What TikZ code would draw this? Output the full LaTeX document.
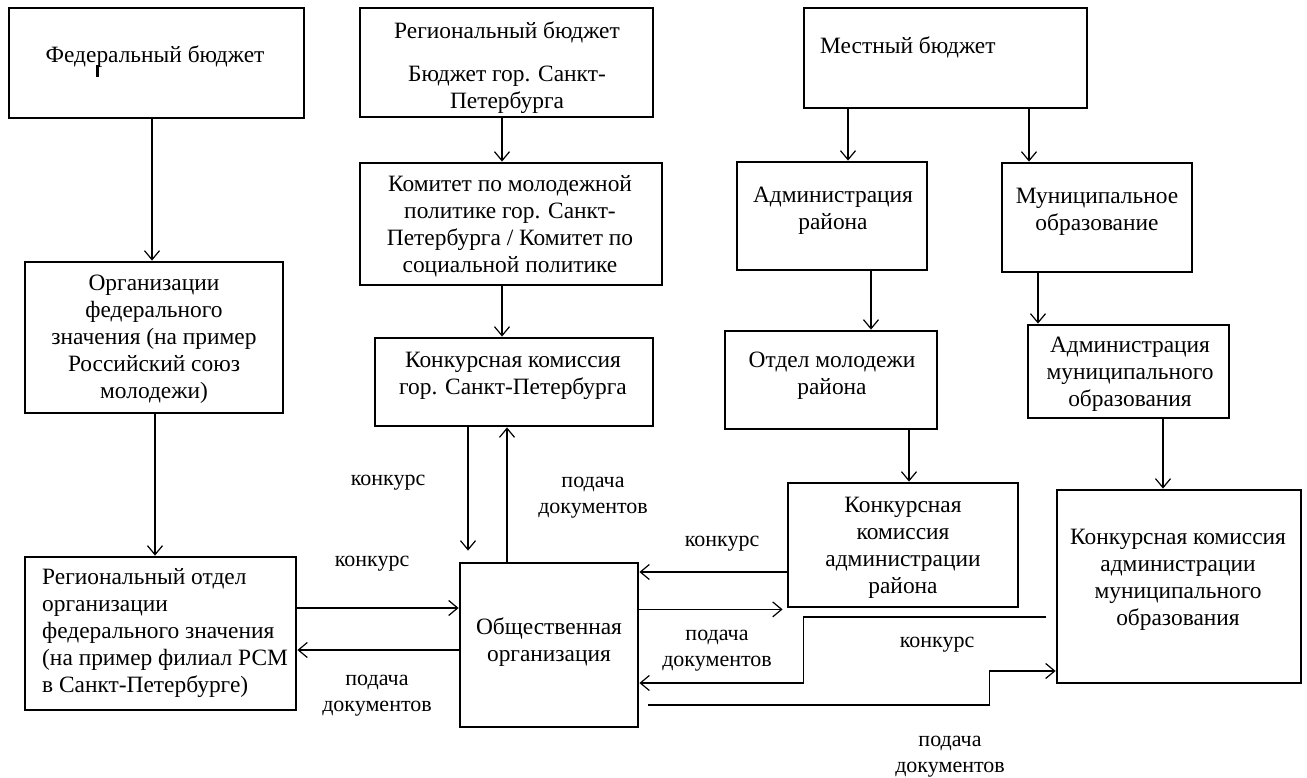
\documentclass[tikz,border=0pt]{standalone}
\usepackage{fontspec}
\setmainfont{Liberation Serif}
\usetikzlibrary{arrows.meta}
\begin{document}
\begin{tikzpicture}[x=1pt,y=-1pt,
  box/.style={draw, line width=2.8pt, rectangle, inner sep=0pt},
  txt/.style={font=\fontsize{23.4}{27}\selectfont, align=center, inner sep=0pt, yshift=-2pt},
  lbl/.style={font=\fontsize{22}{26}\selectfont, align=center, inner sep=0pt, yshift=-1pt},
  arr/.style={-{Straight Barb[length=9pt,width=15pt]}, line width=1.2pt}]
\useasboundingbox (0,0) rectangle (1307,778);
\fill[white] (0,0) rectangle (1307,778);

% boxes
\node[box, minimum width=295pt, minimum height=110pt] (fb)   at (156.5,63) {};
\node[box, minimum width=258pt, minimum height=151pt] (org)  at (154,337.5) {};
\node[box, minimum width=271pt, minimum height=153pt] (rot)  at (160.5,633.5) {};
\node[box, minimum width=293pt, minimum height=109pt] (rb)   at (506.5,62.5) {};
\node[box, minimum width=302pt, minimum height=122pt] (kom)  at (511,224) {};
\node[box, minimum width=278pt, minimum height=88pt]  (kkg)  at (514,382) {};
\node[box, minimum width=178pt, minimum height=164pt] (oo)   at (549,645) {};
\node[box, minimum width=283pt, minimum height=100pt] (mb)   at (945.5,58) {};
\node[box, minimum width=190pt, minimum height=108pt] (ar)   at (832,216) {};
\node[box, minimum width=212pt, minimum height=98pt]  (om)   at (831,380) {};
\node[box, minimum width=230pt, minimum height=124pt] (kkr)  at (903,545) {};
\node[box, minimum width=190pt, minimum height=109pt] (mo)   at (1097,217.5) {};
\node[box, minimum width=201pt, minimum height=93pt]  (amo)  at (1128.5,371.5) {};
\node[box, minimum width=244pt, minimum height=193pt] (kkmo) at (1179,586.5) {};

% texts
\node[txt] (fbt) at (155,55) {Федеральный бюджет};
\draw[line width=3pt] (97.5,65) -- (97.5,77);
\node[txt] (orgt) at (154,337.5) {Организации\\федерального\\значения (на пример\\Российский союз\\молодежи)};
\node[txt, align=left, anchor=west] (rott) at (42,631.5) {Региональный отдел\\организации\\федерального значения\\(на пример филиал РСМ\\в Санкт-Петербурге)};
\node[txt] (rbt1) at (507,30) {Региональный бюджет};
\node[txt] (rbt2) at (507,87.5) {Бюджет гор. Санкт-\\Петербурга};
\node[txt] (komt) at (510,224) {Комитет по молодежной\\политике гор. Санкт-\\Петербурга / Комитет по\\социальной политике};
\node[txt] (kkgt) at (513,373.5) {Конкурсная комиссия\\гор. Санкт-Петербурга};
\node[txt] (oot) at (549,640) {Общественная\\организация};
\node[txt, anchor=west] (mbt) at (820,45) {Местный бюджет};
\node[txt] (art) at (833,208.5) {Администрация\\района};
\node[txt] (omt) at (832,373.5) {Отдел молодежи\\района};
\node[txt] (kkrt) at (903,545.5) {Конкурсная\\комиссия\\администрации\\района};
\node[txt] (mot) at (1097,209.5) {Муниципальное\\образование};
\node[txt] (amot) at (1130,372.5) {Администрация\\муниципального\\образования};
\node[txt] (kkmot) at (1178,578) {Конкурсная комиссия\\администрации\\муниципального\\образования};

% labels
\node[lbl] (l1) at (388,482) {конкурс};
\node[lbl] (l2) at (593,497) {подача\\документов};
\node[lbl] (l3) at (372,563) {конкурс};
\node[lbl] (l4) at (377,694.5) {подача\\документов};
\node[lbl] (l5) at (722,543) {конкурс};
\node[lbl] (l6) at (717,650) {подача\\документов};
\node[lbl] (l7) at (937,644) {конкурс};
\node[lbl] (l8) at (950,755.5) {подача\\документов};

% vertical connectors
\draw[arr] ([xshift=-2pt]fb.south -| org.north) -- ([xshift=-2pt]org.north);
\draw[arr] ([xshift=1pt]org.south) -- ([xshift=1pt]org.south |- rot.north);
\draw[arr] ([xshift=-4.5pt]rb.south) -- ([xshift=-4.5pt]rb.south |- kom.north);
\draw[arr] ([xshift=-9pt]kom.south) -- ([xshift=-9pt]kom.south |- kkg.north);
\draw[arr] ([xshift=-81pt]oo.north |- kkg.south) -- ([xshift=-81pt,yshift=11pt]oo.north);
\draw[arr] ([xshift=-42pt]oo.north) -- ([xshift=-42pt]oo.north |- kkg.south);
\draw[arr] ([xshift=-97.5pt]mb.south) -- ([xshift=-97.5pt]mb.south |- ar.north);
\draw[arr] ([xshift=83.5pt]mb.south) -- ([xshift=83.5pt]mb.south |- mo.north);
\draw[arr] ([xshift=39pt]ar.south) -- ([xshift=39pt]ar.south |- om.north);
\draw[arr] ([xshift=78pt]om.south) -- ([xshift=78pt]om.south |- kkr.north);
\draw[arr] ([xshift=-59pt]mo.south) -- ([xshift=-59pt]mo.south |- amo.north);
\draw[arr] ([xshift=34.5pt]amo.south) -- ([xshift=34.5pt]amo.south |- kkmo.north);

% horizontal connectors
\draw[arr] ([yshift=25.5pt]rot.east) -- ([yshift=25.5pt]rot.east -| oo.west);
\draw[arr] ([yshift=-16.5pt]rot.east -| oo.west) -- ([yshift=-16.5pt]rot.east);
\draw[arr] ([yshift=-27pt]kkr.west) -- ([yshift=-27pt]kkr.west -| oo.east);
\draw[arr] ([yshift=-1pt]kkr.south west -| oo.east) -- ([xshift=-4pt,yshift=-1pt]kkr.south west);
\draw[arr] ([xshift=-10pt,yshift=-30.5pt]kkmo.west) -- ++(-242,0) |- ([yshift=-38pt]oo.east);
\draw[arr] ([xshift=9pt,yshift=-60pt]oo.east) -- ++(341,0) |- ([yshift=-84.5pt]kkmo.west);
\end{tikzpicture}
\end{document}
